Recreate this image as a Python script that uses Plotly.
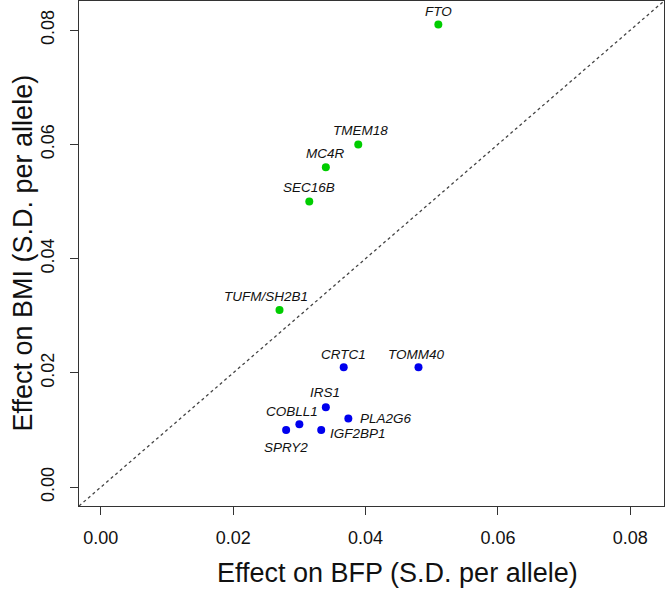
import plotly.graph_objects as go

# genes associated mainly with BMI (green) and with body fat percentage (blue)
bmi_genes = ['FTO', 'TMEM18', 'MC4R', 'SEC16B', 'TUFM/SH2B1']
bmi_bfp = [0.051, 0.0389, 0.034, 0.0315, 0.027]
bmi_bmi = [0.081, 0.060, 0.056, 0.050, 0.031]

bfp_genes = ['CRTC1', 'TOMM40', 'IRS1', 'COBLL1', 'SPRY2', 'IGF2BP1', 'PLA2G6']
bfp_bfp = [0.0367, 0.048, 0.034, 0.030, 0.028, 0.0333, 0.0374]
bfp_bmi = [0.021, 0.021, 0.014, 0.011, 0.010, 0.010, 0.012]

tick_vals = [0.00, 0.02, 0.04, 0.06, 0.08]
tick_text = ['0.00', '0.02', '0.04', '0.06', '0.08']
axis_range = [-0.0033, 0.0851]

# label placement (xshift, yshift, xanchor) per gene
label_pos = {
    'FTO': (0, 13, 'center'),
    'TMEM18': (2, 14, 'center'),
    'MC4R': (0, 14, 'center'),
    'SEC16B': (0, 14, 'center'),
    'TUFM/SH2B1': (-14, 14, 'center'),
    'CRTC1': (0, 13, 'center'),
    'TOMM40': (-2, 13, 'center'),
    'IRS1': (-1, 15, 'center'),
    'COBLL1': (-7, 13, 'center'),
    'SPRY2': (0, -17, 'center'),
    'IGF2BP1': (7, -3, 'left'),
    'PLA2G6': (10, 0, 'left'),
}

font = 'Liberation Sans, Arial, sans-serif'

fig = go.Figure()
fig.add_trace(go.Scatter(x=bmi_bfp, y=bmi_bmi, mode='markers',
                         marker=dict(color='#00CD00', size=8), showlegend=False))
fig.add_trace(go.Scatter(x=bfp_bfp, y=bfp_bmi, mode='markers',
                         marker=dict(color='#0000EE', size=8), showlegend=False))

# y = x reference line
fig.add_shape(type='line', x0=axis_range[0], y0=axis_range[0], x1=axis_range[1], y1=axis_range[1],
              line=dict(color='#444444', width=1.3, dash='dot'), layer='below')

for genes, xs, ys in [(bmi_genes, bmi_bfp, bmi_bmi), (bfp_genes, bfp_bfp, bfp_bmi)]:
    for g, xv, yv in zip(genes, xs, ys):
        dx, dy, anchor = label_pos[g]
        fig.add_annotation(x=xv, y=yv, text='<i>' + g + '</i>', showarrow=False,
                           xshift=dx, yshift=dy, xanchor=anchor, yanchor='middle',
                           font=dict(size=13.5, color='#111111', family=font))

# axis titles
title_font = dict(size=27, color='#111111', family=font)
fig.add_annotation(text='Effect on BFP (S.D. per allele)', xref='paper', yref='paper',
                   x=0.545, y=0, yshift=-67, xanchor='center', yanchor='middle',
                   showarrow=False, font=title_font)
fig.add_annotation(text='Effect on BMI (S.D. per allele)', xref='paper', yref='paper',
                   x=0, y=0.5, xshift=-57, xanchor='center', yanchor='middle',
                   textangle=-90, showarrow=False, font=title_font)

axis_style = dict(range=axis_range, tickvals=tick_vals, ticktext=tick_text,
                  showgrid=False, zeroline=False, showline=True, mirror=True,
                  linecolor='#333333', linewidth=1.3, ticks='outside', ticklen=8,
                  tickwidth=1.3, tickcolor='#333333', automargin=False,
                  tickfont=dict(size=18, color='#111111', family=font))

fig.update_xaxes(**axis_style, ticklabelstandoff=7)
fig.update_yaxes(**axis_style, tickangle=-90, ticklabelstandoff=9)

fig.update_layout(width=665, height=589, plot_bgcolor='white', paper_bgcolor='white',
                  margin=dict(l=79, r=1, t=1, b=83))

fig.write_html('out.html', config={'displayModeBar': False},
               post_script="document.body.style.margin='0px';")
